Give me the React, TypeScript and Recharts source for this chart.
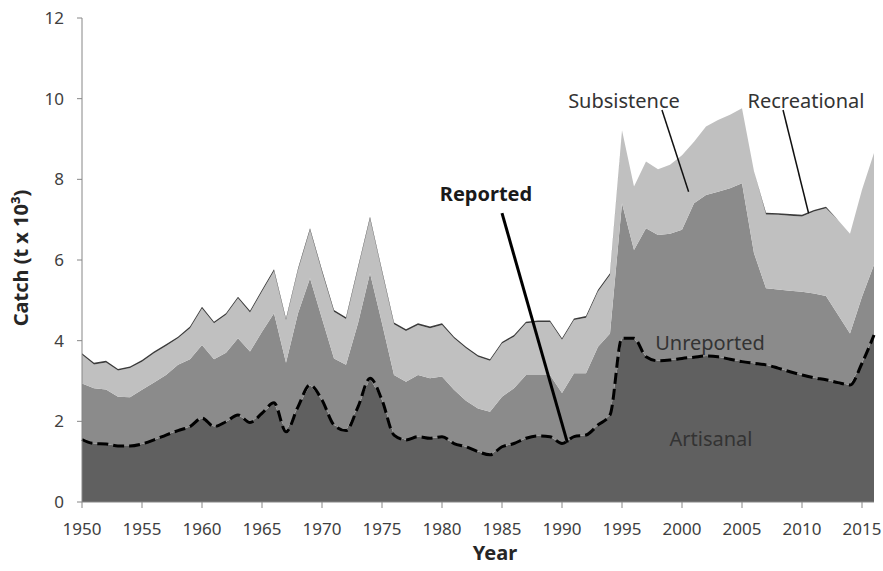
import React from 'react'
import { ComposedChart, Area, Line, XAxis, YAxis, ReferenceLine } from 'recharts'

const years = [
  1950, 1951, 1952, 1953, 1954, 1955, 1956, 1957, 1958, 1959,
  1960, 1961, 1962, 1963, 1964, 1965, 1966, 1967, 1968, 1969,
  1970, 1971, 1972, 1973, 1974, 1975, 1976, 1977, 1978, 1979,
  1980, 1981, 1982, 1983, 1984, 1985, 1986, 1987, 1988, 1989,
  1990, 1991, 1992, 1993, 1994, 1995, 1996, 1997, 1998, 1999,
  2000, 2001, 2002, 2003, 2004, 2005, 2006, 2007, 2008, 2009,
  2010, 2011, 2012, 2013, 2014, 2015, 2016
]

// t x 10^3
const artisanal = [
  1.55, 1.45, 1.44, 1.39, 1.39, 1.44, 1.54, 1.66, 1.77, 1.87,
  2.08, 1.87, 1.99, 2.16, 1.97, 2.2, 2.46, 1.74, 2.36, 2.9,
  2.53, 1.91, 1.77, 2.36, 3.07, 2.53, 1.66, 1.54, 1.62, 1.58,
  1.62, 1.45, 1.37, 1.25, 1.17, 1.37, 1.45, 1.58, 1.64, 1.62,
  1.45, 1.62, 1.66, 1.91, 2.16, 4.06, 4.06, 3.6, 3.5, 3.52,
  3.56, 3.59, 3.62, 3.6, 3.54, 3.48, 3.44, 3.4, 3.32, 3.23,
  3.15, 3.08, 3.03, 2.96, 2.9, 3.44, 4.14
]

const unreported = [
  1.39, 1.37, 1.35, 1.22, 1.21, 1.34, 1.42, 1.49, 1.63, 1.67,
  1.81, 1.67, 1.71, 1.9, 1.76, 2.02, 2.22, 1.71, 2.32, 2.65,
  2.02, 1.65, 1.63, 2.07, 2.6, 1.9, 1.49, 1.44, 1.53, 1.49,
  1.49, 1.33, 1.14, 1.07, 1.07, 1.24, 1.37, 1.57, 1.51, 1.53,
  1.25, 1.57, 1.53, 1.94, 2.02, 3.35, 2.19, 3.19, 3.12, 3.13,
  3.19, 3.82, 3.99, 4.09, 4.24, 4.42, 2.73, 1.9, 1.95, 2.01,
  2.06, 2.09, 2.08, 1.68, 1.28, 1.65, 1.74
]

const subsistence = [
  0.71, 0.59, 0.67, 0.65, 0.72, 0.7, 0.73, 0.72, 0.66, 0.77,
  0.91, 0.89, 0.94, 0.99, 0.97, 1.0, 1.05, 1.06, 1.07, 1.2,
  1.16, 1.16, 1.14, 1.36, 1.36, 1.28, 1.26, 1.26, 1.24, 1.24,
  1.28, 1.28, 1.3, 1.28, 1.26, 1.32, 1.28, 1.28, 1.31, 1.31,
  1.32, 1.32, 1.38, 1.37, 1.45, 1.81, 1.57, 1.65, 1.63, 1.71,
  1.85, 1.52, 1.7, 1.78, 1.82, 1.86, 2.03, 1.83, 1.85, 1.86,
  1.87, 2.03, 2.17, 2.35, 2.47, 2.65, 2.77
]

const recreational = [
  0.04, 0.04, 0.04, 0.04, 0.04, 0.04, 0.04, 0.04, 0.04, 0.04,
  0.04, 0.04, 0.04, 0.04, 0.04, 0.04, 0.04, 0.04, 0.04, 0.04,
  0.04, 0.04, 0.04, 0.04, 0.04, 0.04, 0.04, 0.04, 0.04, 0.04,
  0.04, 0.04, 0.04, 0.04, 0.04, 0.04, 0.04, 0.04, 0.04, 0.04,
  0.04, 0.04, 0.04, 0.04, 0.04, 0, 0, 0, 0, 0,
  0, 0, 0, 0, 0, 0, 0, 0.04, 0.04, 0.04,
  0.04, 0.04, 0.04, 0, 0, 0, 0
]

const reported = [
  1.55, 1.45, 1.44, 1.39, 1.39, 1.44, 1.54, 1.66, 1.77, 1.87,
  2.08, 1.87, 1.99, 2.16, 1.97, 2.2, 2.46, 1.74, 2.36, 2.9,
  2.53, 1.91, 1.77, 2.36, 3.07, 2.53, 1.66, 1.54, 1.62, 1.58,
  1.62, 1.45, 1.37, 1.25, 1.17, 1.37, 1.45, 1.58, 1.64, 1.62,
  1.45, 1.62, 1.66, 1.91, 2.16, 4.06, 4.06, 3.6, 3.5, 3.52,
  3.56, 3.59, 3.62, 3.6, 3.54, 3.48, 3.44, 3.4, 3.32, 3.23,
  3.15, 3.08, 3.03, 2.96, 2.9, 3.44, 4.14
]

const xTicks = [1950, 1955, 1960, 1965, 1970, 1975, 1980, 1985, 1990, 1995, 2000, 2005, 2010, 2015]
const yTicks = [0, 2, 4, 6, 8, 10, 12]

const data = years.map((year, i) => ({
  year,
  artisanal: artisanal[i],
  unreported: unreported[i],
  subsistence: subsistence[i],
  recreational: recreational[i],
  reported: reported[i]
}))

const FONT = '"Noto Sans", sans-serif'
const tickStyle = { fontSize: 17, fill: '#404040', fontFamily: FONT }
const noteStyle = { fontSize: 20, fill: '#333333', fontFamily: FONT }

const W = 883
const H = 571

export default function App() {
  return (
    <div style={{ position: 'absolute', left: 0, top: 0, width: W, height: H, overflow: 'hidden', fontFamily: FONT }}>
      <ComposedChart
        width={W}
        height={H}
        data={data}
        margin={{ top: 18, right: 9, left: 0, bottom: 0 }}
      >
        <XAxis
          dataKey="year"
          type="number"
          domain={[1950, 2016]}
          ticks={xTicks}
          interval={0}
          height={69}
          tickSize={6}
          tickMargin={15}
          stroke="#868686"
          tick={tickStyle}
        />
        <YAxis
          domain={[0, 12]}
          ticks={yTicks}
          width={82}
          tickSize={5}
          tickMargin={13}
          stroke="#868686"
          tick={tickStyle}
        />
        <Area type="linear" dataKey="artisanal" stackId="1" fill="#606060" fillOpacity={1} stroke="none" isAnimationActive={false} />
        <Area type="linear" dataKey="unreported" stackId="1" fill="#8b8b8b" fillOpacity={1} stroke="none" isAnimationActive={false} />
        <Area type="linear" dataKey="subsistence" stackId="1" fill="#c0c0c0" fillOpacity={1} stroke="none" isAnimationActive={false} />
        <Area type="linear" dataKey="recreational" stackId="1" fill="#3c3c3c" fillOpacity={1} stroke="none" isAnimationActive={false} />
        <Line
          type="monotone"
          dataKey="reported"
          stroke="#000000"
          strokeWidth={3}
          strokeDasharray="11 5"
          dot={false}
          isAnimationActive={false}
        />
        <ReferenceLine segment={[{ x: 1985.0, y: 7.16 }, { x: 1990.45, y: 1.47 }]} stroke="#000" strokeWidth={3} />
        <ReferenceLine segment={[{ x: 1998.33, y: 9.72 }, { x: 2000.55, y: 7.69 }]} stroke="#111" strokeWidth={1.5} />
        <ReferenceLine segment={[{ x: 2008.42, y: 9.72 }, { x: 2010.55, y: 7.16 }]} stroke="#111" strokeWidth={1.5} />
      </ComposedChart>
      {/* annotations on top of the areas */}
      <svg width={W} height={H} style={{ position: 'absolute', left: 0, top: 0, pointerEvents: 'none' }}>
        <text x={486} y={193} textAnchor="middle" dominantBaseline="central" style={{ ...noteStyle, fill: '#1a1a1a', fontWeight: 700 }}>Reported</text>
        <text x={624} y={100} textAnchor="middle" dominantBaseline="central" style={noteStyle}>Subsistence</text>
        <text x={806} y={100} textAnchor="middle" dominantBaseline="central" style={noteStyle}>Recreational</text>
        <text x={710} y={342} textAnchor="middle" dominantBaseline="central" style={noteStyle}>Unreported</text>
        <text x={711} y={438} textAnchor="middle" dominantBaseline="central" style={noteStyle}>Artisanal</text>
        <text x={495} y={552} textAnchor="middle" dominantBaseline="central" style={{ fontSize: 20, fontWeight: 700, fill: '#262626', fontFamily: FONT }}>Year</text>
        <text
          x={20}
          y={258}
          textAnchor="middle"
          dominantBaseline="central"
          transform="rotate(-90 20 258)"
          style={{ fontSize: 20, fontWeight: 700, fill: '#262626', fontFamily: FONT }}
        >
          Catch (t x 10³)
        </text>
      </svg>
    </div>
  )
}
